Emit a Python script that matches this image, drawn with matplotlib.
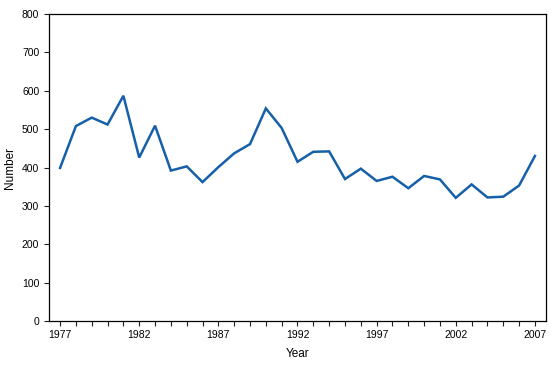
import matplotlib
matplotlib.use('Agg')
import matplotlib.pyplot as plt

years = list(range(1977, 2008))
counts = [399, 508, 530, 512, 587, 426, 509, 392, 403, 362,
          401, 437, 461, 554, 503, 415, 441, 442, 370, 397,
          365, 376, 346, 378, 369, 321, 356, 322, 324, 353, 430]
tick_years = [1977, 1982, 1987, 1992, 1997, 2002, 2007]

plt.rcParams['font.family'] = ['Liberation Sans', 'DejaVu Sans']

fig = plt.figure(figsize=(5.58, 3.65), dpi=100)
ax = fig.add_axes([0.0878, 0.1205, 0.8907, 0.8411])
ax.plot(years, counts, color='#1560a8', linewidth=1.8, solid_joinstyle='miter')

ax.set_xlim(1976.3, 2007.7)
ax.set_ylim(0, 800)
ax.set_yticks(range(0, 801, 100))
ax.set_xticks(years)
ax.set_xticklabels([str(y) if y in tick_years else '' for y in years])
ax.tick_params(axis='both', labelsize=7.5, length=3.5, width=0.8, color='#222222')
ax.tick_params(axis='x', pad=3)
for s in ax.spines.values():
    s.set_linewidth(0.9)
ax.set_xlabel('Year', fontsize=8.5, labelpad=6)
ax.set_ylabel('Number', fontsize=8.5, labelpad=4)

fig.savefig('out.png', dpi=100)
